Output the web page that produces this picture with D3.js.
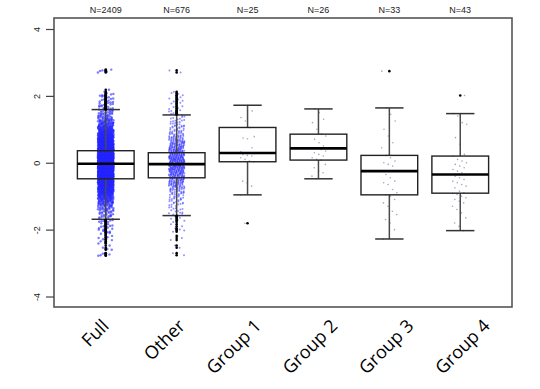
<!DOCTYPE html>
<html>
<head>
<meta charset="utf-8">
<script src="https://cdn.jsdelivr.net/npm/d3@7"></script>
<style>
  body { margin: 0; background: #fff; }
  svg { display: block; }
</style>
</head>
<body>
<script>
// categories and group sizes
const groups = ['Full', 'Other', 'Group 1', 'Group 2', 'Group 3', 'Group 4']
const sizes = [2409, 676, 25, 26, 33, 43]

// box statistics
const q1 = [-0.48, -0.45, 0.03, 0.08, -0.96, -0.91]
const medians = [-0.03, -0.04, 0.29, 0.43, -0.25, -0.35]
const q3 = [0.36, 0.30, 1.055, 0.855, 0.22, 0.20]
const whiskerLow = [-1.69, -1.58, -0.96, -0.48, -2.28, -2.03]
const whiskerHigh = [1.59, 1.43, 1.72, 1.61, 1.64, 1.47]

// the two big groups are too dense to read point by point: counts per 0.1 band
const binLevels = [2.75, 2.65, 2.55, 2.45, 2.35, 2.25, 2.15, 2.05, 1.95, 1.85, 1.75, 1.65, 1.55, 1.45,
  1.35, 1.25, 1.15, 1.05, 0.95, 0.85, 0.75, 0.65, 0.55, 0.45, 0.35, 0.25, 0.15, 0.05,
  -0.05, -0.15, -0.25, -0.35, -0.45, -0.55, -0.65, -0.75, -0.85, -0.95, -1.05, -1.15, -1.25, -1.35,
  -1.45, -1.55, -1.65, -1.75, -1.85, -1.95, -2.05, -2.15, -2.25, -2.35, -2.45, -2.55, -2.65, -2.75]
const fullBinCounts = [5, 0, 0, 0, 0, 0, 2, 5, 6, 7, 8, 9, 11, 14,
  18, 24, 31, 40, 52, 64, 78, 92, 106, 120, 133, 143, 150, 154,
  154, 150, 143, 132, 119, 105, 90, 76, 62, 50, 39, 30, 23, 17,
  13, 10, 8, 7, 6, 5, 5, 4, 3, 3, 2, 2, 1, 5]
const otherBinCounts = [2, 0, 0, 0, 0, 0, 1, 3, 3, 3, 3, 4, 4, 5,
  6, 7, 8, 10, 12, 15, 19, 23, 27, 30, 34, 38, 41, 43,
  43, 41, 38, 34, 30, 27, 23, 19, 15, 12, 10, 8, 7, 6,
  5, 4, 3, 3, 2, 2, 2, 1, 1, 1, 1, 1, 0, 2]

// the small groups, point by point
const group1Values = [1.72, 1.55, 1.35, 1.25, 1.05, 0.78, 0.74, 0.72, 0.45, 0.33, 0.3, 0.29, 0.27,
  0.25, 0.22, 0.2, 0.15, 0.1, 0.05, 0.03, -0.55, -0.6, -0.7, -0.96, -1.81]
const group2Values = [1.61, 1.5, 1.3, 1.2, 1.0, 0.86, 0.8, 0.7, 0.6, 0.5, 0.45, 0.43, 0.4,
  0.35, 0.3, 0.25, 0.2, 0.15, 0.1, 0.08, -0.05, -0.15, -0.25, -0.3, -0.4, -0.48]
const group3Values = [2.74, 1.64, 1.45, 1.25, 1.0, 0.8, 0.6, 0.45, 0.22, 0.15, 0.05, 0.0, -0.05,
  -0.1, -0.25, -0.35, -0.45, -0.55, -0.6, -0.65, -0.8, -0.9, -0.96, -1.0, -1.1, -1.2, -1.3,
  -1.45, -1.55, -1.7, -1.8, -2.0, -2.28]
const group4Values = [2.01, 1.47, 1.4, 1.2, 1.15, 0.75, 0.55, 0.25, 0.2, 0.1, 0.05, 0.0, -0.05,
  -0.1, -0.15, -0.2, -0.25, -0.3, -0.35, -0.4, -0.45, -0.5, -0.55, -0.6, -0.65, -0.7, -0.75,
  -0.85, -0.9, -0.92, -0.95, -1.0, -1.05, -1.1, -1.15, -1.2, -1.3, -1.4, -1.5, -1.65, -1.8, -1.9, -2.03]

const yTicks = [-4, -2, 0, 2, 4]

const WIDTH = 540
const HEIGHT = 389
const frame = { left: 54, top: 18, right: 512, bottom: 307 }

const svg = d3.select('body').append('svg')
  .attr('width', WIDTH)
  .attr('height', HEIGHT)

svg.append('rect').attr('width', WIDTH).attr('height', HEIGHT).attr('fill', '#fff')

const x = d3.scaleLinear().domain([0.27, 6.73]).range([frame.left, frame.right])
const y = d3.scaleLinear().domain([-4, 4]).range([296.5, 29])
// the category names were placed a little wider apart than the boxes
const labelX = d3.scalePoint().domain(groups).range([110, 491])

const BOX = 0.4   // half box width, in x units
const CAP = 0.2   // half whisker cap width
const JIT = 0.11  // jitter half width

// spread each band's count over the band (scrambled order, so no visible rows)
const fromBins = counts => counts.flatMap((n, b) =>
  d3.range(n).map(k => binLevels[b] + (((k * 0.618034 + b * 0.37) % 1) - 0.5) * 0.1))

const values = [
  fromBins(fullBinCounts),
  fromBins(otherBinCounts),
  group1Values, group2Values, group3Values, group4Values,
]

// deterministic jitter
const jitter = i => (((i * 0.7548777) % 1) - 0.5) * 2 * JIT

// point look per group: dense blue for the big ones, faint grey for the small ones
const dotR = [1.2, 1.0, 0.8, 0.8, 0.8, 0.8]
const dotFill = ['#2424ff', '#2a2aff', '#9c9cb8', '#9c9cb8', '#9c9cb8', '#9c9cb8']
const dotOpacity = [0.6, 0.5, 0.9, 0.9, 0.9, 0.9]

// jittered points first
groups.forEach((g, gi) => {
  svg.append('g').selectAll('circle')
    .data(values[gi])
    .join('circle')
    .attr('cx', (d, i) => x(gi + 1 + jitter(i * 7 + gi)))
    .attr('cy', d => y(d))
    .attr('r', dotR[gi])
    .attr('fill', dotFill[gi])
    .attr('fill-opacity', dotOpacity[gi])
})

// boxplots
const stats = groups.map((g, i) => ({
  pos: i + 1, q1: q1[i], med: medians[i], q3: q3[i], lo: whiskerLow[i], hi: whiskerHigh[i],
}))

const box = svg.append('g').selectAll('g').data(stats).join('g')

box.append('line') // upper whisker
  .attr('x1', d => x(d.pos)).attr('x2', d => x(d.pos))
  .attr('y1', d => y(d.q3)).attr('y2', d => y(d.hi))
  .attr('stroke', '#4a4a4a').attr('stroke-width', 1.5)
box.append('line') // lower whisker
  .attr('x1', d => x(d.pos)).attr('x2', d => x(d.pos))
  .attr('y1', d => y(d.q1)).attr('y2', d => y(d.lo))
  .attr('stroke', '#4a4a4a').attr('stroke-width', 1.5)
box.append('line')
  .attr('x1', d => x(d.pos - CAP)).attr('x2', d => x(d.pos + CAP))
  .attr('y1', d => y(d.hi)).attr('y2', d => y(d.hi))
  .attr('stroke', '#333').attr('stroke-width', 1.5)
box.append('line')
  .attr('x1', d => x(d.pos - CAP)).attr('x2', d => x(d.pos + CAP))
  .attr('y1', d => y(d.lo)).attr('y2', d => y(d.lo))
  .attr('stroke', '#333').attr('stroke-width', 1.5)
box.append('rect')
  .attr('x', d => x(d.pos - BOX))
  .attr('width', d => x(d.pos + BOX) - x(d.pos - BOX))
  .attr('y', d => y(d.q3))
  .attr('height', d => y(d.q1) - y(d.q3))
  .attr('fill', 'none')
  .attr('stroke', '#222').attr('stroke-width', 1.4)
box.append('line')
  .attr('x1', d => x(d.pos - BOX)).attr('x2', d => x(d.pos + BOX))
  .attr('y1', d => y(d.med)).attr('y2', d => y(d.med))
  .attr('stroke', '#000').attr('stroke-width', 2.6)

// outliers in black on the centre line
groups.forEach((g, gi) => {
  const out = values[gi].filter(v => v > whiskerHigh[gi] || v < whiskerLow[gi])
  svg.append('g').selectAll('circle')
    .data(out)
    .join('circle')
    .attr('cx', x(gi + 1))
    .attr('cy', d => y(d))
    .attr('r', 1.3)
    .attr('fill', '#000')
})

// frame
svg.append('rect')
  .attr('x', frame.left).attr('y', frame.top)
  .attr('width', frame.right - frame.left).attr('height', frame.bottom - frame.top)
  .attr('fill', 'none').attr('stroke', '#555').attr('stroke-width', 1.6)

// y axis, R style with vertical labels
const yAxis = svg.append('g')
  .attr('transform', `translate(${frame.left},0)`)
  .call(d3.axisLeft(y).tickValues(yTicks).tickSize(8).tickFormat(d => String(d)))
yAxis.select('.domain').remove()
yAxis.selectAll('line').attr('stroke', '#444').attr('stroke-width', 1.2)
yAxis.selectAll('text')
  .attr('transform', 'rotate(-90)')
  .attr('x', 0).attr('y', -14).attr('dy', 0)
  .attr('text-anchor', 'middle')
  .attr('font-family', '"Liberation Sans", Arial, sans-serif')
  .attr('font-size', 9)
  .attr('fill', '#222')

// group sizes along the top
svg.append('g').selectAll('text')
  .data(sizes)
  .join('text')
  .attr('x', (d, i) => x(i + 1))
  .attr('y', 12.8)
  .attr('text-anchor', 'middle')
  .attr('font-family', '"Liberation Sans", Arial, sans-serif')
  .attr('font-size', 9)
  .attr('fill', '#222')
  .text(d => `N=${d}`)

// category names, slanted
svg.append('g').selectAll('text')
  .data(groups)
  .join('text')
  .attr('transform', d => `translate(${labelX(d)},327) rotate(-45)`)
  .attr('text-anchor', 'end')
  .attr('font-family', '"Open Sans", sans-serif')
  .attr('font-size', 18)
  .attr('fill', '#000')
  .text(d => d)
</script>
</body>
</html>
